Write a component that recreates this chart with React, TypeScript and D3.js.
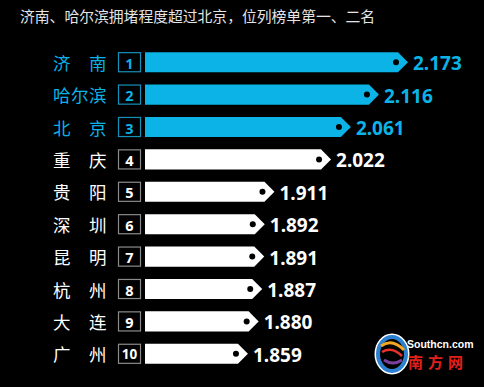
import React from "react";
import * as d3 from "d3";

// data
const cities = ["济南", "哈尔滨", "北京", "重庆", "贵阳", "深圳", "昆明", "杭州", "大连", "广州"];
const indexValues = [2.173, 2.116, 2.061, 2.022, 1.911, 1.892, 1.891, 1.887, 1.88, 1.859];
const ranks = ["1", "2", "3", "4", "5", "6", "7", "8", "9", "10"];
const highlighted = 3; // first three rows are blue
const title = "济南、哈尔滨拥堵程度超过北京，位列榜单第一、二名";

const W = 484, H = 387;
const BLUE = "#0bb3e6";
const CJK = "'Noto Sans CJK SC', 'Noto Sans', sans-serif";

function barPath(x0: number, x1: number, y: number, h: number) {
  const tip = h / 2;
  const p = d3.path();
  p.moveTo(x0, y);
  p.lineTo(x1 - tip, y);
  p.lineTo(x1, y + h / 2);
  p.lineTo(x1 - tip, y + h);
  p.lineTo(x0, y + h);
  p.closePath();
  return p.toString();
}

export default function App() {
  // bars do not start at zero in the original, the axis is cut
  const x = d3.scaleLinear().domain([1.657, 2.173]).range([145, 408]);
  const y = d3.scaleBand<string>().domain(ranks).range([46, 370]).paddingInner(0.38).paddingOuter(0.19);
  const bh = y.bandwidth();

  return (
    <>
      <style>{`body{margin:0;background:#000}`}</style>
      <svg width={W} height={H} style={{ display: "block", background: "#000" }}>
        <rect width={W} height={H} fill="#000" />
        <text x={20} y={15} fill="#e4e4e4" fontSize={14.8} fontFamily={CJK} dominantBaseline="central">
          {title}
        </text>
        {cities.map((c, i) => {
          const top = y(ranks[i]) as number;
          const cy = top + bh / 2;
          const col = i < highlighted ? BLUE : "#ffffff";
          const chars = c.split("");
          const slots = chars.length === 2 ? [0, 2] : [0, 1, 2];
          const x1 = x(indexValues[i]);
          return (
            <g key={c}>
              {chars.map((ch, k) => (
                <text key={k} x={53 + slots[k] * 18} y={cy} fill={col} fontSize={17.5} fontFamily={CJK}
                  dominantBaseline="central">{ch}</text>
              ))}
              <rect x={118.5} y={top + 0.5} width={22} height={bh - 1} fill="#000"
                stroke={i < highlighted ? "#1590b8" : "#8a8a8a"} strokeWidth={1.2} />
              <text x={129.5} y={cy + 0.5} fill={col} fontSize={ranks[i].length > 1 ? 13.5 : 14.5} fontWeight="bold"
                fontFamily="'Noto Sans', sans-serif" textAnchor="middle" dominantBaseline="central">{ranks[i]}</text>
              <path d={barPath(x(1.657), x1, top, bh)} fill={col} />
              <circle cx={x1 - 12} cy={cy} r={3} fill="#000" />
              <text x={x1 + 5} y={cy + 1} fill={col} fontSize={19} fontWeight="bold"
                fontFamily="'Noto Sans', sans-serif" dominantBaseline="central">{indexValues[i].toFixed(3)}</text>
            </g>
          );
        })}
        {/* southcn logo, rough */}
        <g>
          <ellipse cx={392} cy={354} rx={15} ry={18} fill="none" stroke="#fff" strokeWidth={5} />
          <ellipse cx={392} cy={354} rx={14} ry={17} fill="none" stroke="#2d7fd0" strokeWidth={4} />
          <path d="M381,346 Q392,338 404,350" fill="none" stroke="#f5a623" strokeWidth={3} />
          <path d="M382,352 Q392,346 402,356" fill="none" stroke="#e8322a" strokeWidth={2.5} />
          <path d="M384,360 Q393,366 402,360" fill="none" stroke="#7b3fa0" strokeWidth={3} />
          <text x={407} y={344} fill="#fff" fontSize={10.5} fontWeight="bold" fontFamily="Arial, 'Liberation Sans', sans-serif"
            dominantBaseline="central">Southcn.com</text>
          <text x={408} y={361} fill="#e0201c" fontSize={15} fontWeight="bold" fontFamily={CJK}
            dominantBaseline="central" letterSpacing={5}>南方网</text>
        </g>
      </svg>
    </>
  );
}
